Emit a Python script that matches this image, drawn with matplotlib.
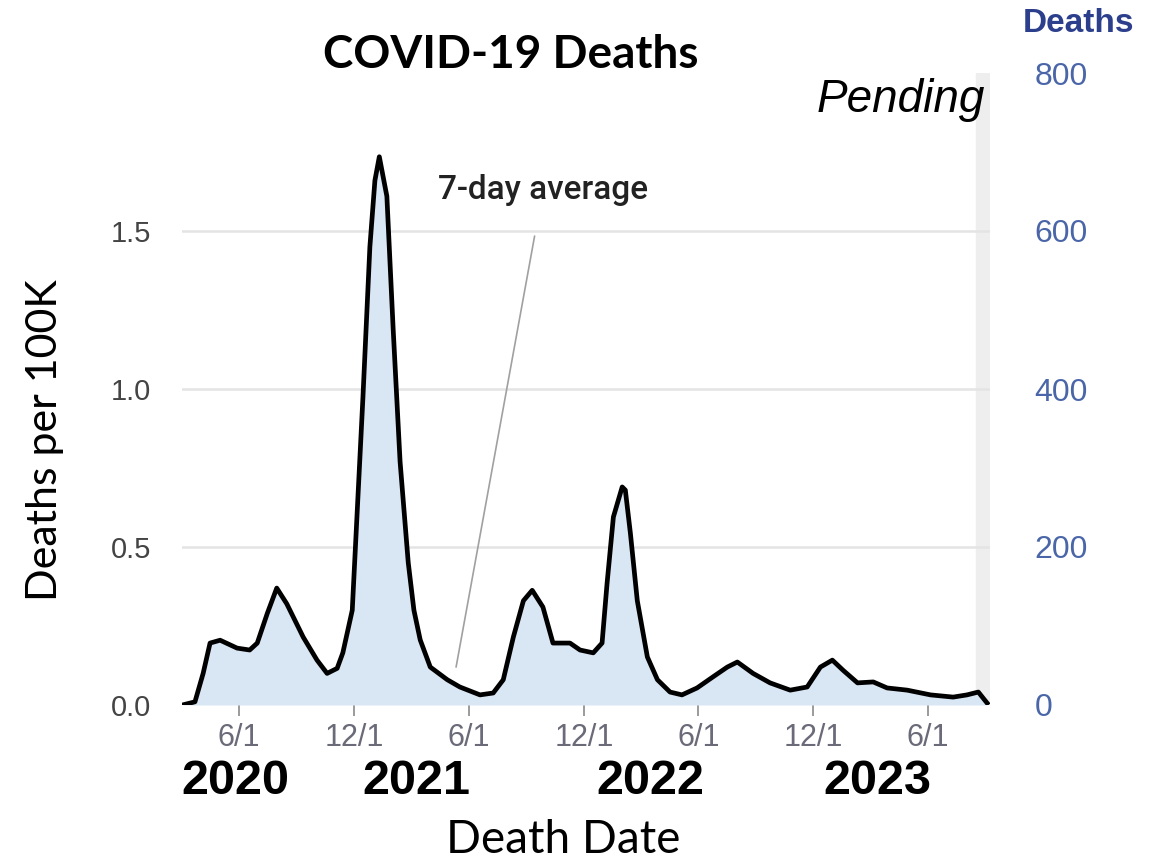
import matplotlib
matplotlib.use("Agg")
import matplotlib.pyplot as plt
import matplotlib.dates as mdates
import numpy as np

# Daily deaths per 100K (7-day average)
dates = [
    "2020-03-03", "2020-03-23", "2020-04-05", "2020-04-16", "2020-05-02",
    "2020-05-29", "2020-06-18", "2020-06-30", "2020-07-16", "2020-07-31",
    "2020-08-16", "2020-09-11", "2020-10-03", "2020-10-19", "2020-11-04",
    "2020-11-13", "2020-11-28", "2020-12-15", "2020-12-26", "2021-01-03",
    "2021-01-10", "2021-01-22", "2021-02-01", "2021-02-12", "2021-02-25",
    "2021-03-06", "2021-03-16", "2021-04-01", "2021-04-28", "2021-05-18",
    "2021-06-19", "2021-07-10", "2021-07-26", "2021-08-11", "2021-08-27",
    "2021-09-10", "2021-09-27", "2021-10-13", "2021-11-09", "2021-11-25",
    "2021-12-16", "2021-12-30", "2022-01-07", "2022-01-17", "2022-01-31",
    "2022-02-05", "2022-02-13", "2022-02-24", "2022-03-12", "2022-03-28",
    "2022-04-17", "2022-05-06", "2022-05-30", "2022-06-25", "2022-07-17",
    "2022-08-02", "2022-08-27", "2022-09-23", "2022-10-25", "2022-11-21",
    "2022-12-12", "2022-12-31", "2023-01-17", "2023-02-09", "2023-03-06",
    "2023-03-28", "2023-04-29", "2023-06-05", "2023-07-11", "2023-08-02",
    "2023-08-20", "2023-09-03",
]
rate_per_100k = [
    0.0, 0.01, 0.10, 0.196, 0.205,
    0.18, 0.174, 0.196, 0.29, 0.37,
    0.32, 0.215, 0.142, 0.10, 0.116,
    0.165, 0.30, 0.975, 1.45, 1.66,
    1.735, 1.61, 1.19, 0.77, 0.45,
    0.30, 0.206, 0.12, 0.08, 0.057,
    0.032, 0.038, 0.08, 0.215, 0.33,
    0.363, 0.31, 0.196, 0.196, 0.174,
    0.165, 0.196, 0.386, 0.595, 0.69,
    0.68, 0.544, 0.33, 0.152, 0.08,
    0.041, 0.032, 0.054, 0.09, 0.12,
    0.136, 0.10, 0.07, 0.047, 0.057,
    0.12, 0.142, 0.11, 0.07, 0.073,
    0.054, 0.047, 0.032, 0.025, 0.032,
    0.041, 0.006,
]

left_ticks = [0.0, 0.5, 1.0, 1.5]
right_ticks = [0, 200, 400, 600, 800]
x_tick_dates = ["2020-06-01", "2020-12-01", "2021-06-01", "2021-12-01",
                "2022-06-01", "2022-12-01", "2023-06-01"]
x_tick_labels = ["6/1", "12/1", "6/1", "12/1", "6/1", "12/1", "6/1"]
year_labels = ["2020", "2021", "2022", "2023"]
year_x_px = [235, 416, 650, 877]

W, H = 1158, 864
fig = plt.figure(figsize=(W / 100, H / 100), dpi=100)

ax = fig.add_axes([182 / W, 1 - 705 / H, 808 / W, 632 / H])
x = mdates.datestr2num(dates)
y = np.array(rate_per_100k)

x_ticks = mdates.datestr2num(x_tick_dates)
px_per_day = (928 - 239) / (x_ticks[-1] - x_ticks[0])
x_left = x_ticks[0] - (239 - 182) / px_per_day
x_right = x_ticks[-1] + (990 - 928) / px_per_day
ax.set_xlim(x_left, x_right)
ax.set_ylim(0, 2.0)

# pending band on the right
ax.axvspan(x_right - 14 / px_per_day, x_right, color="#eeeeee", zorder=0)

for t in left_ticks[1:]:
    ax.axhline(t, color="#e4e4e4", lw=1.8, zorder=1)

ax.fill_between(x, y, 0, color="#d9e6f4", lw=0, zorder=2)
ax.plot(x, y, color="black", lw=3.4, solid_joinstyle="round", zorder=3)

for s in ax.spines.values():
    s.set_visible(False)

ax.set_yticks(left_ticks)
ax.set_yticklabels([f"{t:.1f}" for t in left_ticks], fontsize=21,
                   color="#444444", family="Liberation Sans")
ax.tick_params(axis="y", length=0, pad=22)
ax.set_xticks(x_ticks)
ax.set_xticklabels(x_tick_labels, fontsize=22, color="#6a6a78",
                   family="Liberation Sans")
ax.tick_params(axis="x", length=8, width=1.2, color="#8a8a8a", pad=5)

ax2 = ax.twinx()
ax2.set_ylim(0, 800)
ax2.set_yticks(right_ticks)
ax2.set_yticklabels([str(t) for t in right_ticks], fontsize=23,
                    color="#4a66a8", family="Liberation Sans")
ax2.tick_params(axis="y", length=0, pad=32)
for s in ax2.spines.values():
    s.set_visible(False)

# annotation for the 7-day average
ax.annotate("7-day average", xy=(mdates.datestr2num("2021-05-12"), 0.12),
            xytext=(543 / W, 1 - 190 / H), textcoords="figure fraction",
            ha="center", va="center", fontsize=24, fontweight="medium",
            color="#222222", family="Roboto",
            arrowprops=dict(arrowstyle="-", color="#a0a0a0", lw=1.2,
                            shrinkA=20, shrinkB=0))

fig.text(511 / W, 1 - 55 / H, "COVID-19 Deaths", ha="center", va="center",
         fontsize=33, fontweight="bold", family="Lato")
fig.text(985 / W, 1 - 100 / H, "Pending", ha="right", va="center",
         fontsize=33, style="italic", family="Liberation Sans")
fig.text(1023 / W, 1 - 23 / H, "Deaths", ha="left", va="center",
         fontsize=24, fontweight="bold", color="#2b3f8c",
         family="Liberation Sans")
fig.text(45 / W, 1 - 440 / H, "Deaths per 100K", rotation=90, ha="center",
         va="center", fontsize=31, family="Lato")
fig.text(563 / W, 1 - 840 / H, "Death Date", ha="center", va="center",
         fontsize=33, family="Lato")
for lab, xp in zip(year_labels, year_x_px):
    fig.text(xp / W, 1 - 781 / H, lab, ha="center", va="center",
             fontsize=35, fontweight="bold", family="Liberation Sans")

fig.savefig("out.png", dpi=100)
